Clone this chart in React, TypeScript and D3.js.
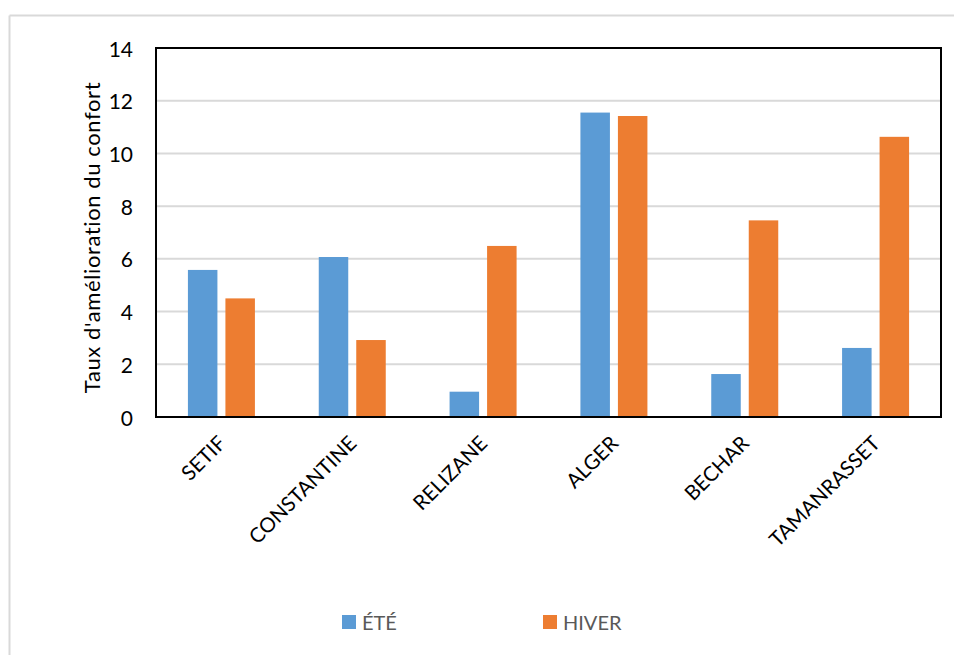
import React from "react";
import * as d3 from "d3";

const categories = ["SETIF", "CONSTANTINE", "RELIZANE", "ALGER", "BECHAR", "TAMANRASSET"];
const ete = [5.58, 6.07, 0.96, 11.55, 1.63, 2.62];
const hiver = [4.5, 2.92, 6.49, 11.42, 7.46, 10.63];
const yTicks = [0, 2, 4, 6, 8, 10, 12, 14];
const seriesNames = ["ÉTÉ", "HIVER"];
const colors = ["#5B9BD5", "#ED7D31"];

export default function App() {
  const W = 954, H = 655;
  const left = 156, right = 941, top = 48, bottom = 417;
  const font = "Lato, 'Open Sans', sans-serif";
  const x = d3.scaleBand<string>().domain(categories).range([left, right]).paddingInner(0).paddingOuter(0);
  const y = d3.scaleLinear().domain([0, 14]).range([bottom, top]);
  const barW = 29.5, gap = 8;
  const series = [ete, hiver];
  return (
    <svg width={W} height={H} style={{ position: "absolute", left: 0, top: 0, background: "#fff" }}>
      <line x1={9.5} y1={15.5} x2={954} y2={15.5} stroke="#d9d9d9" strokeWidth={2} />
      <line x1={9.5} y1={15.5} x2={9.5} y2={655} stroke="#d9d9d9" strokeWidth={2} />
      {yTicks.filter(t => t > 0 && t < 14).map(t => (
        <line key={t} x1={left} x2={right} y1={y(t)} y2={y(t)} stroke="#d9d9d9" strokeWidth={2} />
      ))}
      {categories.map((c, i) => {
        const cx = x(c)! + x.bandwidth() / 2;
        return (
          <g key={c}>
            {series.map((s, k) => {
              const bx = k === 0 ? cx - gap / 2 - barW : cx + gap / 2;
              return <rect key={k} x={bx} y={y(s[i])} width={barW} height={y(0) - y(s[i])} fill={colors[k]} />;
            })}
            <text
              transform={`translate(${cx + 2},${bottom + 24}) rotate(-45)`}
              textAnchor="end"
              dominantBaseline="middle"
              fontFamily={font}
              fontSize={20.5}
              fill="#000"
            >
              {c}
            </text>
          </g>
        );
      })}
      <rect x={left} y={top} width={right - left} height={bottom - top} fill="none" stroke="#000" strokeWidth={2} />
      {yTicks.map(t => (
        <text key={t} x={133} y={y(t)} textAnchor="end" dominantBaseline="central" fontFamily={font} fontSize={21} fill="#000">
          {t}
        </text>
      ))}
      <text
        transform={`translate(91,${(top + bottom) / 2 + 5}) rotate(-90)`}
        textAnchor="middle"
        dominantBaseline="central"
        fontFamily={font}
        fontSize={22}
        letterSpacing={0.6}
        fill="#000"
      >
        Taux d'amélioration du confort
      </text>
      {seriesNames.map((n, k) => {
        const lx = k === 0 ? 342 : 543;
        return (
          <g key={n}>
            <rect x={lx} y={615} width={14} height={14} fill={colors[k]} />
            <text x={lx + 20} y={622} dominantBaseline="central" fontFamily={font} fontSize={20} fill="#595959">
              {n}
            </text>
          </g>
        );
      })}
    </svg>
  );
}
